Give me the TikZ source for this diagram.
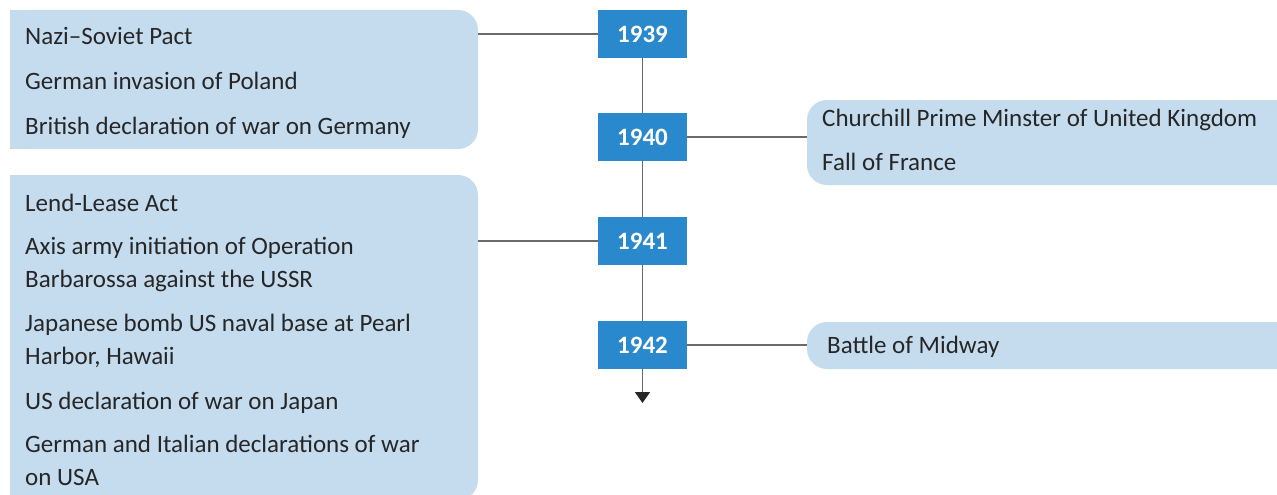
\documentclass[tikz,border=0pt]{standalone}
\usepackage{fontspec}
\setmainfont{Carlito}
\usetikzlibrary{arrows.meta}

\definecolor{eventblue}{HTML}{C5DCEF}
\definecolor{yearblue}{HTML}{2A88CD}
\definecolor{linegray}{HTML}{6A6A6A}
\definecolor{textdark}{HTML}{262626}

\newcommand\evfont{\fontsize{25}{33}\selectfont}
\newcommand\yrfont{\fontsize{25}{30}\selectfont\bfseries}

\begin{document}
\begin{tikzpicture}
    [
        x = 1pt, y = -1pt,
        eventbox/.style = {fill=eventblue, rounded corners=20pt, inner sep=0pt},
        yearbox/.style  = {fill=yearblue, text=white, font=\yrfont, minimum width=89pt, minimum height=48pt, inner sep=0pt},
        item/.style     = {anchor=base west, inner sep=0pt, align=left, font=\evfont, text=textdark},
        link/.style     = {draw=linegray, line width=1.5pt}
    ]
    \useasboundingbox (0,0) rectangle (1277,495);

    % event boxes
    \node [eventbox, minimum width=468pt, minimum height=139pt] at (244,79.5) (ev39) {};
    \node [eventbox, minimum width=468pt, minimum height=325pt] at (244,337.5) (ev41) {};
    \node [eventbox, minimum width=493pt, minimum height=85pt] at (1053.5,142.5) (ev40) {};
    \node [eventbox, minimum width=493pt, minimum height=47pt] at (1053.5,345.5) (ev42) {};
    \fill [eventblue] (ev39.north west) rectangle (ev39.south);
    \fill [eventblue] (ev41.north west) rectangle (ev41.south);

    % years
    \node [yearbox] at (642.5,34) (y39) {1939};
    \node [yearbox] at (642.5,137) (y40) {1940};
    \node [yearbox] at (642.5,241) (y41) {1941};
    \node [yearbox] at (642.5,345) (y42) {1942};
    \coordinate (tip) at (642.5,403);

    \draw [link] (ev39.east |- y39) -- (y39);
    \draw [link] (ev40.west |- y40) -- (y40);
    \draw [link] (ev41.east |- y41) -- (y41);
    \draw [link] (ev42.west |- y42) -- (y42);
    \draw [link] (y39) -- (y40);
    \draw [link] (y40) -- (y41);
    \draw [link] (y41) -- (y42);
    \draw [link, -{Triangle[width=15pt, length=11pt, color=black!85]}] (y42) -- (tip);

    % events (multi-line: base = last line)
    \node [item] at (25,45) (t1) {Nazi--Soviet Pact};
    \node [item] at (25,89) (t2) {German invasion of Poland};
    \node [item] at (25,134) (t3) {British declaration of war on Germany};
    \node [item] at (822,126) (t4) {Churchill Prime Minster of United Kingdom};
    \node [item] at (822,170) (t5) {Fall of France};
    \node [item] at (25,211) (t6) {Lend-Lease Act};
    \node [item] at (25,287) (t7) {Axis army initiation of Operation\\Barbarossa against the USSR};
    \node [item] at (25,364) (t8) {Japanese bomb US naval base at Pearl\\Harbor, Hawaii};
    \node [item] at (25,409) (t9) {US declaration of war on Japan};
    \node [item] at (25,485) (t10) {German and Italian declarations of war\\on USA};
    \node [item] at (827,353) (t11) {Battle of Midway};
\end{tikzpicture}
\end{document}
